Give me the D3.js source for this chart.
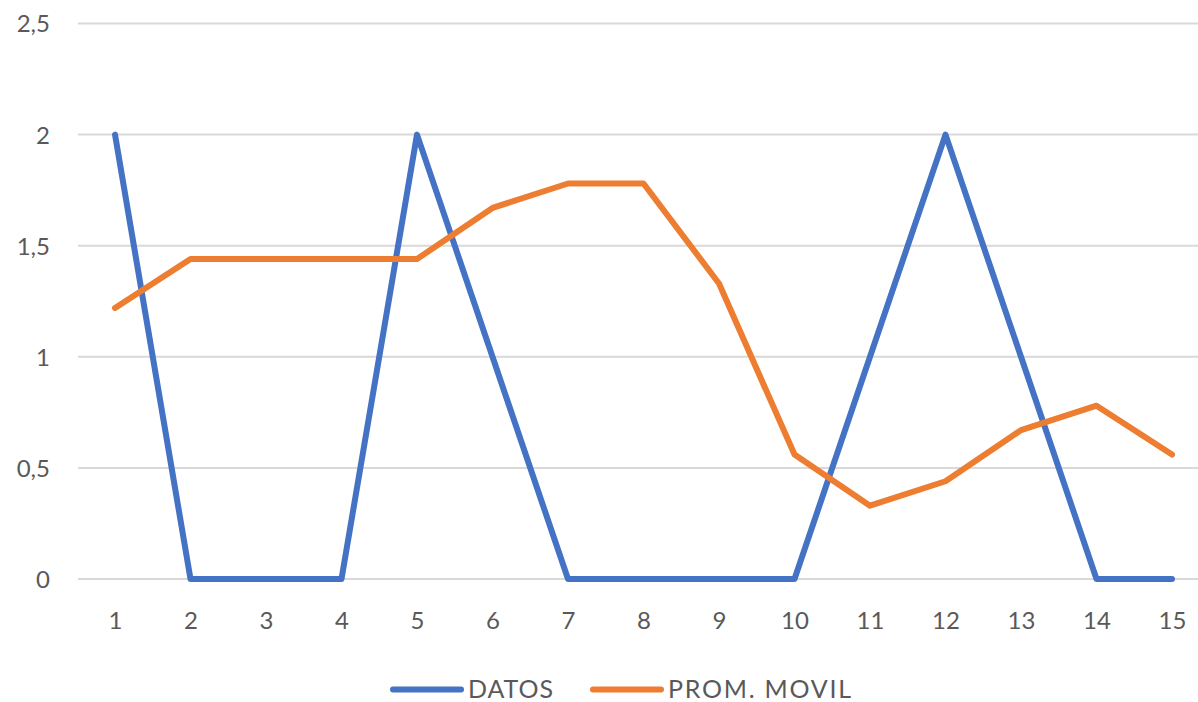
<!DOCTYPE html>
<html><head><meta charset="utf-8">
<script src="https://cdn.jsdelivr.net/npm/d3@7"></script>
<style>body{margin:0;background:#fff;overflow:hidden}svg{display:block}text{font-family:Lato,"Open Sans",sans-serif;fill:#595959}</style>
</head><body><svg id="c" width="1198" height="702"></svg>
<script>
const categories = ["1","2","3","4","5","6","7","8","9","10","11","12","13","14","15"];
const datos = [2,0,0,0,2,1,0,0,0,0,1,2,1,0,0];
const promMovil = [1.22,1.44,1.44,1.44,1.44,1.67,1.78,1.78,1.33,0.56,0.33,0.44,0.67,0.78,0.56];
const yTicks = [0,0.5,1,1.5,2,2.5];
const yTickLabels = ["0","0,5","1","1,5","2","2,5"];
const seriesNames = ["DATOS","PROM. MOVIL"];
const colors = ["#4472C4","#ED7D31"];

const svg = d3.select("#c");
const x = d3.scalePoint().domain(categories).range([115,1172]);
const y = d3.scaleLinear().domain([0,2.5]).range([579,23.5]);

const g = svg.append("g");
g.selectAll("line.grid").data(yTicks).join("line")
  .attr("x1",78).attr("x2",1198)
  .attr("y1",d=>y(d)).attr("y2",d=>y(d))
  .attr("stroke","#d9d9d9").attr("stroke-width",2);

const yAxis = d3.axisLeft(y).tickValues(yTicks).tickFormat((d,i)=>yTickLabels[i]).tickSize(0).tickPadding(0);
const ya = svg.append("g").attr("transform","translate(50,0)").call(yAxis);
ya.select(".domain").remove();
ya.selectAll("text").attr("font-size",24).attr("fill","#595959").attr("text-anchor","end").attr("dy","0.35em");

const xAxis = d3.axisBottom(x).tickSize(0).tickPadding(0);
const xa = svg.append("g").attr("transform","translate(0,621)").call(xAxis);
xa.select(".domain").remove();
xa.selectAll("text").attr("font-size",24).attr("fill","#595959").attr("dy","0.35em");

const line = d3.line().x((d,i)=>x(categories[i])).y(d=>y(d));
[datos,promMovil].forEach((s,k)=>{
  svg.append("path").attr("d",line(s)).attr("fill","none")
    .attr("stroke",colors[k]).attr("stroke-width",6)
    .attr("stroke-linejoin","round").attr("stroke-linecap","round");
});

const legend = svg.append("g");
const lx = [393,593];
const lw = [85,183];
seriesNames.forEach((n,k)=>{
  legend.append("line").attr("x1",lx[k]).attr("x2",lx[k]+68).attr("y1",689.5).attr("y2",689.5)
    .attr("stroke",colors[k]).attr("stroke-width",6).attr("stroke-linecap","round");
  legend.append("text").attr("x",lx[k]+75).attr("y",689).attr("dy","0.35em")
    .attr("font-size",25).attr("fill","#595959")
    .attr("textLength",lw[k]).attr("lengthAdjust","spacing").text(n);
});
</script></body></html>
